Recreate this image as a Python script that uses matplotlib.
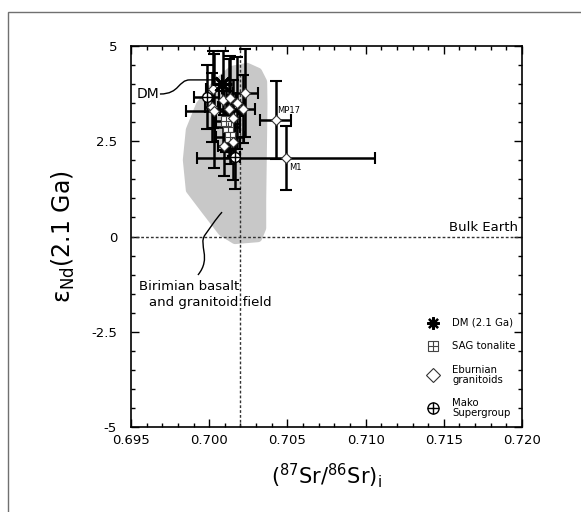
import matplotlib
matplotlib.use("Agg")
import matplotlib.pyplot as plt
from matplotlib.path import Path
from matplotlib.patches import PathPatch, Polygon, Rectangle
from matplotlib.ticker import MultipleLocator, FixedLocator

plt.rcParams['font.family'] = ['DejaVu Sans']
plt.rcParams['axes.unicode_minus'] = False
plt.rcParams['mathtext.fontset'] = 'dejavusans'

# ---------------- data ----------------
# Eburnian granitoids (diamonds), incl. MP17 and M1
eb_x = [0.70022, 0.70090, 0.70133, 0.70176, 0.70229, 0.70016, 0.70031,
        0.70128, 0.70214, 0.70150, 0.70154, 0.70095, 0.70425, 0.70490]
eb_y = [3.86, 3.58, 3.63, 3.50, 3.77, 3.39, 3.30,
        3.35, 3.35, 3.10, 2.49, 2.38, 3.06, 2.06]
eb_xerr = [0.0004, 0.0003, 0.0004, 0.0005, 0.0008, 0.0004, 0.0018,
           0.0006, 0.0008, 0.0005, 0.0004, 0.0004, 0.0010, 0.0057]
eb_yerr = [1.0, 1.3, 1.1, 1.2, 1.15, 0.9, 1.5,
           1.3, 0.9, 1.0, 1.0, 0.8, 1.02, 0.83]

# SAG tonalite
sag_x = [0.70120, 0.70133, 0.70105]
sag_y = [2.87, 2.61, 3.02]
sag_xerr = [0.0008, 0.0009, 0.0006]
sag_yerr = [0.6, 0.7, 0.8]

# Mako Supergroup
mako_x = [0.69985, 0.70168]
mako_y = [3.66, 2.09]
mako_xerr = [0.0008, 0.0003]
mako_yerr = [0.85, 0.85]

# Depleted mantle at 2.1 Ga
dm_x = [0.70082]
dm_y = [4.00]

# Birimian basalt and granitoid field outline
field_x = [0.70242, 0.70312, 0.70344, 0.70346, 0.70344, 0.70338, 0.70338,
           0.70312, 0.70165, 0.70082, 0.69973, 0.69877, 0.69858, 0.69877,
           0.69941, 0.70037, 0.70146]
field_y = [4.45, 4.32, 4.06, 3.50, 2.80, 0.96, 0.22,
           -0.04, -0.09, 0.12, 0.70, 1.22, 2.01, 2.80,
           3.45, 3.98, 4.37]

bulk_earth_sr = 0.702
bulk_earth_eps = 0.0

xticks = [0.695, 0.700, 0.705, 0.710, 0.715, 0.720]
xticklabels = ['0.695', '0.700', '0.705', '0.710', '0.715', '0.720']
yticks = [-5, -2.5, 0, 2.5, 5]
yticklabels = ['-5', '-2.5', '0', '2.5', '5']

# ---------------- figure ----------------
fig = plt.figure(figsize=(5.81, 5.12), dpi=100)
fig.patches.append(Rectangle((8 / 581, -0.1), 1.2, 1 - 12 / 512 + 0.1,
                             transform=fig.transFigure, fill=False,
                             edgecolor='#707070', lw=1.0, clip_on=False))
ax = fig.add_axes([131 / 581, 1 - 427 / 512, 391 / 581, 381 / 512])

ax.set_xlim(0.695, 0.720)
ax.set_ylim(-5, 5)

# field
field = Polygon(list(zip(field_x, field_y)), closed=True, facecolor='#c8c8c8',
                edgecolor='#c8c8c8', lw=6, joinstyle='round', zorder=1)
ax.add_patch(field)

# reference lines
ax.axvline(bulk_earth_sr, color='#333333', lw=1.0, ls=(0, (2, 1.5)), zorder=2)
ax.axhline(bulk_earth_eps, color='#333333', lw=1.0, ls=(0, (2, 1.5)), zorder=2)

ekw = dict(fmt='none', ecolor='black', elinewidth=1.8, capsize=4, capthick=1.5, zorder=3)
ax.errorbar(eb_x, eb_y, xerr=eb_xerr, yerr=eb_yerr, **ekw)
ax.errorbar(sag_x, sag_y, xerr=sag_xerr, yerr=sag_yerr, **ekw)
ax.errorbar(mako_x, mako_y, xerr=mako_xerr, yerr=mako_yerr, **ekw)

# markers
ax.plot(sag_x, sag_y, ls='none', marker='s', ms=7, mfc='white', mec='#444444', mew=0.8, zorder=5)
ax.plot(sag_x, sag_y, ls='none', marker='+', ms=7, mec='#444444', mew=0.8, zorder=6)
ax.plot(mako_x, mako_y, ls='none', marker='o', ms=7, mfc='white', mec='black', mew=1.0, zorder=5)
ax.plot(mako_x, mako_y, ls='none', marker='+', ms=7, mec='black', mew=1.0, zorder=6)
ax.plot(eb_x, eb_y, ls='none', marker='D', ms=5.5, mfc='white', mec='#333333', mew=0.8, zorder=7)
ax.plot(dm_x, dm_y, ls='none', marker=(8, 2, 0), ms=14, mec='black', mew=2.0, zorder=8)

# point labels
ax.text(eb_x[12] + 0.0001, eb_y[12] + 0.12, 'MP17', fontsize=6, ha='left', va='bottom')
ax.text(eb_x[13] + 0.0002, eb_y[13] - 0.12, 'M1', fontsize=6, ha='left', va='top')

# DM annotation
ax.text(0.69609, 3.74, 'DM', fontsize=10, ha='center', va='center')
dm_path = Path([(0.69685, 3.74), (0.69813, 3.74), (0.69800, 4.11), (0.69877, 4.11),
                (0.70018, 4.11)],
               [Path.MOVETO, Path.CURVE4, Path.CURVE4, Path.CURVE4, Path.LINETO])
ax.add_patch(PathPatch(dm_path, fill=False, lw=1.0, edgecolor='black', zorder=4))

# Birimian field annotation
ax.text(0.69551, -1.30, 'Birimian basalt', fontsize=9.5, ha='left', va='center')
ax.text(0.69615, -1.72, 'and granitoid field', fontsize=9.5, ha='left', va='center')
fp = Path([(0.69928, -1.01), (0.70018, -0.56), (0.69928, -0.22), (0.69973, 0.04),
           (0.70005, 0.22), (0.70037, 0.43), (0.70082, 0.64)],
          [Path.MOVETO, Path.CURVE4, Path.CURVE4, Path.CURVE4,
           Path.CURVE4, Path.CURVE4, Path.CURVE4])
ax.add_patch(PathPatch(fp, fill=False, lw=1.0, edgecolor='black', zorder=4))

ax.text(0.71975, 0.24, 'Bulk Earth', fontsize=9.5, ha='right', va='center')

# legend (manual)
leg_mx, leg_tx = 0.772, 0.821
leg_y = [0.273, 0.2126, 0.1365, 0.050]
ax.plot([leg_mx], [leg_y[0]], transform=ax.transAxes, marker=(8, 2, 0), ms=9,
        mec='black', mew=1.6, ls='none', clip_on=False)
ax.plot([leg_mx], [leg_y[1]], transform=ax.transAxes, marker='s', ms=6.5,
        mfc='white', mec='#444444', mew=0.8, ls='none')
ax.plot([leg_mx], [leg_y[1]], transform=ax.transAxes, marker='+', ms=6.5,
        mec='#444444', mew=0.8, ls='none')
ax.plot([leg_mx], [leg_y[2]], transform=ax.transAxes, marker='D', ms=7,
        mfc='white', mec='#333333', mew=0.8, ls='none')
ax.plot([leg_mx], [leg_y[3]], transform=ax.transAxes, marker='o', ms=8,
        mfc='white', mec='black', mew=1.0, ls='none')
ax.plot([leg_mx], [leg_y[3]], transform=ax.transAxes, marker='+', ms=8,
        mec='black', mew=1.0, ls='none')
leg_labels = ['DM (2.1 Ga)', 'SAG tonalite', 'Eburnian\ngranitoids', 'Mako\nSupergroup']
for yy, lab in zip(leg_y, leg_labels):
    ax.text(leg_tx, yy, lab, transform=ax.transAxes, fontsize=7.3, ha='left',
            va='center', linespacing=1.1)

# axes styling
ax.xaxis.set_major_locator(FixedLocator(xticks))
ax.set_xticklabels(xticklabels)
ax.xaxis.set_minor_locator(MultipleLocator(0.001))
ax.yaxis.set_major_locator(FixedLocator(yticks))
ax.set_yticklabels(yticklabels)
ax.yaxis.set_minor_locator(MultipleLocator(0.5))
ax.tick_params(which='both', direction='in', top=True, right=True, labelsize=9.5,
               width=1.0)
ax.tick_params(which='major', length=6)
ax.tick_params(which='minor', length=3)
ax.tick_params(axis='y', pad=10)
ax.tick_params(axis='x', pad=5)
for s in ax.spines.values():
    s.set_linewidth(1.2)

ax.set_xlabel(r'($^{87}$Sr/$^{86}$Sr)$_{\mathregular{i}}$', fontsize=15, labelpad=10)
ax.set_ylabel(r'ε$_{\mathregular{Nd}}$(2.1 Ga)', fontsize=17, labelpad=10)

fig.savefig('out.png', dpi=100)
